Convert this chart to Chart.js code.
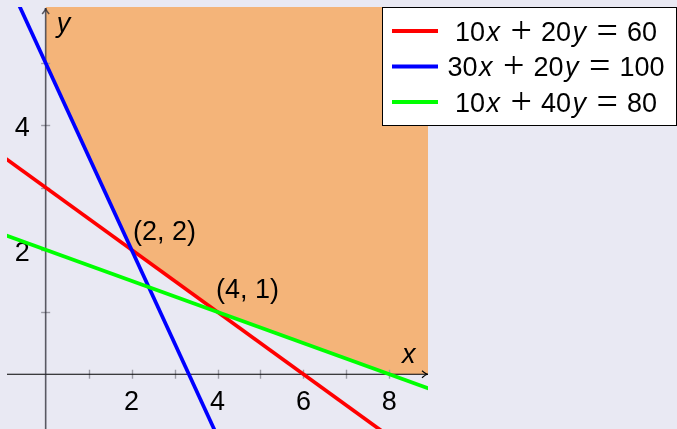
<!DOCTYPE html>
<html>
<head>
<meta charset="utf-8">
<script src="https://cdn.jsdelivr.net/npm/chart.js@4/dist/chart.umd.min.js"></script>
<style>
  html, body { margin: 0; padding: 0; background: #e9e9f3; }
  canvas { display: block; }
</style>
</head>
<body>
<canvas id="c" width="677" height="429"></canvas>
<script>
// Constraint lines, each given by two points on it
const lineNames  = ['10x + 20y = 60', '30x + 20y = 100', '10x + 40y = 80'];
const redLine    = [{x: -1, y: 3.5},  {x: 8, y: -1}];
const blueLine   = [{x: -1, y: 6.5},  {x: 4, y: -1}];
const greenLine  = [{x: -1, y: 2.25}, {x: 9, y: -0.25}];

// Lower boundary of the feasible region (corner points)
const regionEdge = [{x: 0, y: 5}, {x: 2, y: 2}, {x: 4, y: 1}, {x: 8, y: 0}, {x: 9, y: 0}];
// Corners that carry a coordinate label
const labeledCorners = [regionEdge[1], regionEdge[2]];

// Axis ticks
const xTickLabels = [2, 4, 6, 8];
const yTickLabels = [2, 4];
const xTicks = [1, 2, 3, 4, 5, 6, 7, 8];
const yTicks = [1, 2, 3, 4, 5];

const lineColors = ['#ff0000', '#0000ff', '#00ff00'];
// pixel offsets of the corner labels from their corner
const cornerLabelOffsets = [{dx: 1.5, dy: -9.5}, {dx: -1.5, dy: -13.5}];
const FONT = '"Liberation Sans", Arial, sans-serif';

function arrow(ctx, tipX, tipY, dx, dy) {
  // small open arrow head pointing in direction (dx, dy)
  const len = 6, half = 3.5;
  const px = -dy, py = dx;
  ctx.beginPath();
  ctx.moveTo(tipX - dx * len + px * half, tipY - dy * len + py * half);
  ctx.quadraticCurveTo(tipX - dx * 2, tipY - dy * 2, tipX, tipY);
  ctx.quadraticCurveTo(tipX - dx * 2, tipY - dy * 2, tipX - dx * len - px * half, tipY - dy * len - py * half);
  ctx.stroke();
}

// Draw an equation: digits upright, letters italic, + and = with math spacing
function drawEquation(ctx, text, cx, baseline) {
  const tokens = text.replace(/\s+/g, '').match(/\d+|[a-z]|[+=]/g);
  const parts = tokens.map(t => {
    if (/[a-z]/.test(t)) return {t, font: 'italic 27px ' + FONT, pad: 1.5, dy: 0};
    if (/[+=]/.test(t)) return {t, font: '38px "Liberation Serif", serif', pad: 9, dy: 2};
    return {t, font: '27px ' + FONT, pad: 0, dy: 0};
  });
  let total = 0;
  parts.forEach(p => { ctx.font = p.font; p.w = ctx.measureText(p.t).width + 2 * p.pad; total += p.w; });
  let x = cx - total / 2;
  ctx.textAlign = 'left';
  ctx.textBaseline = 'alphabetic';
  parts.forEach(p => {
    ctx.font = p.font;
    ctx.fillText(p.t, x + p.pad, baseline + p.dy);
    x += p.w;
  });
}

const decorations = {
  id: 'decorations',
  beforeDatasetsDraw(chart) {
    const ctx = chart.ctx;
    const xs = chart.scales.x, ys = chart.scales.y;
    const area = chart.chartArea;
    const x0 = xs.getPixelForValue(0), y0 = ys.getPixelForValue(0);
    ctx.save();
    // tick marks
    ctx.strokeStyle = '#9a9aa4';
    ctx.lineWidth = 1.4;
    xTicks.forEach(v => {
      const px = Math.round(xs.getPixelForValue(v)) + 0.5;
      ctx.beginPath(); ctx.moveTo(px, y0 - 4.5); ctx.lineTo(px, y0 + 4.5); ctx.stroke();
    });
    yTicks.forEach(v => {
      const py = Math.round(ys.getPixelForValue(v)) + 0.5;
      ctx.beginPath(); ctx.moveTo(x0 - 4.5, py); ctx.lineTo(x0 + 4.5, py); ctx.stroke();
    });
    // x axis
    ctx.strokeStyle = '#000';
    ctx.lineWidth = 1.2;
    ctx.beginPath(); ctx.moveTo(area.left, y0); ctx.lineTo(area.right, y0); ctx.stroke();
    arrow(ctx, area.right, y0, 1, 0);
    // y axis
    ctx.strokeStyle = 'rgba(40,40,50,0.75)';
    ctx.lineWidth = 1.6;
    ctx.beginPath(); ctx.moveTo(x0, area.bottom); ctx.lineTo(x0, area.top + 1); ctx.stroke();
    arrow(ctx, x0, area.top + 1, 0, -1);
    // tick labels
    ctx.fillStyle = '#000';
    ctx.font = '27px ' + FONT;
    ctx.textAlign = 'center';
    ctx.textBaseline = 'alphabetic';
    xTickLabels.forEach(v => ctx.fillText(String(v), xs.getPixelForValue(v), y0 + 36));
    ctx.textAlign = 'right';
    yTickLabels.forEach(v => ctx.fillText(String(v), x0 - 16, ys.getPixelForValue(v) + 11));
    // axis names
    ctx.font = 'italic 27px ' + FONT;
    ctx.textAlign = 'left';
    ctx.fillText('y', x0 + 11, area.top + 25);
    ctx.fillText('x', area.right - 26, y0 - 11);
    ctx.restore();
  },
  afterDatasetsDraw(chart) {
    const ctx = chart.ctx;
    const xs = chart.scales.x, ys = chart.scales.y;
    ctx.save();
    // corner labels
    ctx.fillStyle = '#000';
    ctx.font = '27px ' + FONT;
    ctx.textAlign = 'left';
    ctx.textBaseline = 'alphabetic';
    labeledCorners.forEach((p, i) => {
      const o = cornerLabelOffsets[i];
      ctx.fillText('(' + p.x + ', ' + p.y + ')', xs.getPixelForValue(p.x) + o.dx, ys.getPixelForValue(p.y) + o.dy);
    });
    // legend
    const bx = 382.5, by = 7.5, bw = 294, bh = 118;
    ctx.fillStyle = '#fff';
    ctx.fillRect(bx, by, bw, bh);
    ctx.strokeStyle = '#000';
    ctx.lineWidth = 1;
    ctx.strokeRect(bx, by, bw, bh);
    lineNames.forEach((name, i) => {
      const y = 31 + i * 35.5;
      ctx.strokeStyle = lineColors[i];
      ctx.lineWidth = 4;
      ctx.beginPath(); ctx.moveTo(392, y); ctx.lineTo(438, y); ctx.stroke();
      ctx.fillStyle = '#000';
      drawEquation(ctx, name, 556, y + 9.5);
    });
    ctx.restore();
  }
};

const lineStyle = (data, color) => ({
  data, borderColor: color, borderWidth: 3.7, pointRadius: 0, fill: false, clip: 0, tension: 0
});

new Chart(document.getElementById('c'), {
  type: 'line',
  data: {
    datasets: [
      lineStyle(greenLine, lineColors[2]),
      lineStyle(blueLine, lineColors[1]),
      lineStyle(redLine, lineColors[0]),
      {
        data: regionEdge,
        borderWidth: 0,
        borderColor: 'rgba(0,0,0,0)',
        backgroundColor: 'rgba(255,128,0,0.5)',
        pointRadius: 0,
        fill: 'end',
        tension: 0
      }
    ]
  },
  options: {
    responsive: false,
    devicePixelRatio: 1,
    animation: false,
    events: [],
    layout: { padding: { left: 7, top: 7, right: 249, bottom: 0 } },
    scales: {
      x: { type: 'linear', min: -0.9, max: 8.9, display: false },
      y: { type: 'linear', min: -0.88, max: 5.9, display: false }
    },
    plugins: {
      legend: { display: false },
      tooltip: { enabled: false },
      filler: { drawTime: 'beforeDatasetsDraw' }
    }
  },
  plugins: [decorations]
});
</script>
</body>
</html>
